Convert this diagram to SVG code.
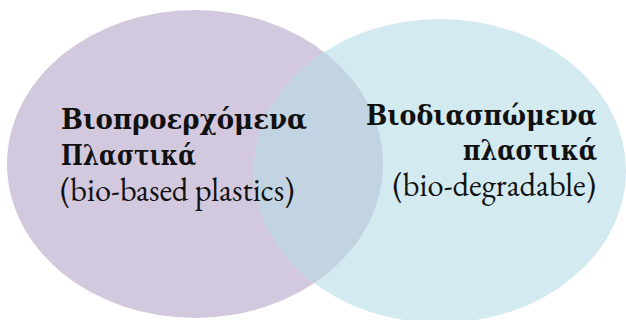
<svg xmlns="http://www.w3.org/2000/svg" width="626" height="320" viewBox="0 0 626 320">
<style>
text{fill:#111;}
</style>
<defs>
<clipPath id="clipR"><ellipse cx="440" cy="171" rx="186" ry="152"/></clipPath>
</defs>
<rect width="626" height="320" fill="#ffffff"/>
<g id="bio-based">
<ellipse cx="195" cy="164" rx="188" ry="154" fill="#D3C9DF"/>
</g>
<g id="bio-degradable">
<ellipse cx="440" cy="171" rx="186" ry="152" fill="#D4EAF1"/>
</g>
<g id="overlap">
<ellipse cx="195" cy="164" rx="188" ry="154" fill="#C2D3E2" clip-path="url(#clipR)"/>
</g>
<g id="labels-left">
<text x="61" y="129" font-family="'DejaVu Serif', 'Liberation Serif', serif" font-size="27" font-weight="bold" textLength="246" lengthAdjust="spacingAndGlyphs">Βιοπροερχόμενα</text>
<text x="61" y="165" font-family="'DejaVu Serif', 'Liberation Serif', serif" font-size="27" font-weight="bold" textLength="135" lengthAdjust="spacingAndGlyphs">Πλαστικά</text>
<text x="60" y="201" font-family="'EB Garamond', 'Liberation Serif', serif" font-size="32.5">(bio-based plastics)</text>
</g>
<g id="labels-right">
<text x="597" y="125" font-family="'DejaVu Serif', 'Liberation Serif', serif" font-size="27" font-weight="bold" text-anchor="end" textLength="231" lengthAdjust="spacingAndGlyphs">Βιοδιασπώμενα</text>
<text x="597" y="160" font-family="'DejaVu Serif', 'Liberation Serif', serif" font-size="27" font-weight="bold" text-anchor="end" textLength="134" lengthAdjust="spacingAndGlyphs">πλαστικά</text>
<text x="596" y="196" font-family="'EB Garamond', 'Liberation Serif', serif" font-size="32.5" text-anchor="end">(bio-degradable)</text>
</g>
</svg>
